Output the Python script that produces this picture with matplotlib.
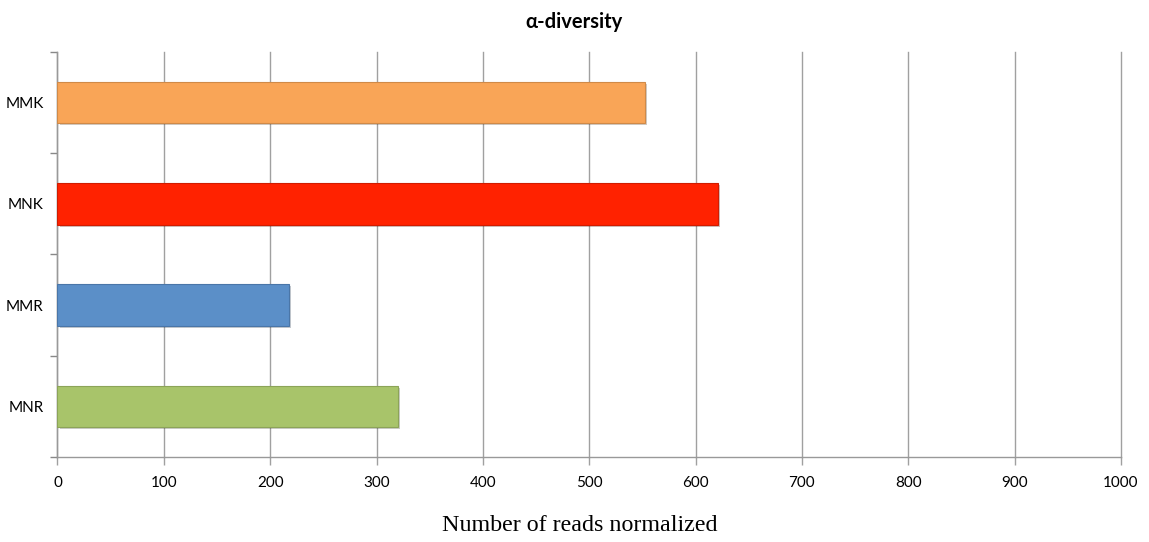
import numpy as np
import matplotlib
matplotlib.use("Agg")
import matplotlib.pyplot as plt
import matplotlib.patheffects as pe

# samples, top to bottom
samples = ["MMK", "MNK", "MMR", "MNR"]
reads = [552, 621, 218, 320]
colors = ["#F9A557", "#FF2200", "#5B8FC8", "#A8C46A"]
edges = ["#D08A48", "#D01C00", "#4A76A8", "#8CA458"]
xticks = [0, 100, 200, 300, 400, 500, 600, 700, 800, 900, 1000]

fig = plt.figure(figsize=(11.49, 5.42), dpi=100)
ax = fig.add_axes([0.05, 0.157, 0.9256, 0.747])

ypos = np.arange(len(samples))[::-1]
bars = ax.barh(ypos, reads, height=0.41, color=colors, edgecolor=edges,
               linewidth=0.8, zorder=3)
for b in bars:
    b.set_path_effects([pe.SimplePatchShadow(offset=(1.5, -1.5), alpha=0.25),
                        pe.Normal()])

ax.set_xlim(0, 1000)
ax.set_ylim(-0.5, 3.5)
ax.set_xticks(xticks)
ax.set_xticklabels([str(t) for t in xticks], family="Lato", fontsize=11)
ax.xaxis.grid(True, color="#A0A0A0", linewidth=1.0, zorder=0)
for gl in ax.get_xgridlines():
    gl.set_clip_on(False)

ax.set_yticks(ypos)
ax.set_yticklabels(samples, family="Lato", fontsize=11)
ax.tick_params(axis="y", which="major", length=0, pad=10)
ax.set_yticks(np.arange(-0.5, 4, 1), minor=True)
ax.tick_params(axis="y", which="minor", length=5, color="#888888", width=1)
ax.tick_params(axis="x", length=6, color="#A0A0A0", width=1, pad=8)

for s in ["top", "right"]:
    ax.spines[s].set_visible(False)
for s in ["left", "bottom"]:
    ax.spines[s].set_color("#999999")
    ax.spines[s].set_linewidth(1.0)

fig.text(0.5, 0.96, "α-diversity", ha="center", va="center",
         family="Lato", fontweight="bold", fontsize=14.5)
fig.text(0.505, 0.03, "Number of reads normalized", ha="center", va="center",
         family="Liberation Serif", fontsize=17.3)

fig.savefig("out.png", dpi=100)
